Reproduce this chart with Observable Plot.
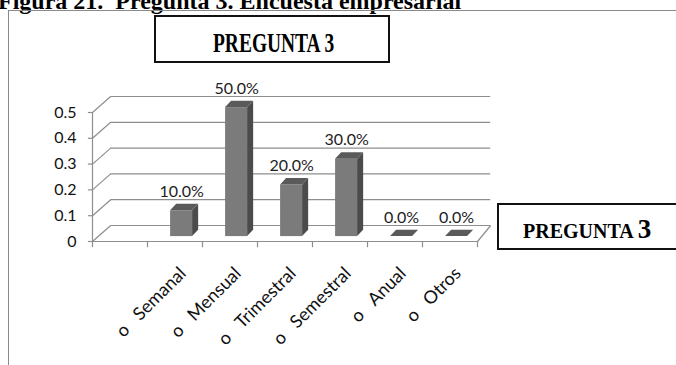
<!DOCTYPE html>
<html>
<head>
<meta charset="utf-8">
<script src="https://cdn.jsdelivr.net/npm/d3@7"></script>
<script src="https://cdn.jsdelivr.net/npm/@observablehq/plot@0.6"></script>
<style>
  body { margin: 0; background: #fff; }
  #fig { position: relative; width: 676px; height: 365px; overflow: hidden; background: #fff; }
  #fig svg { position: absolute; left: 0; top: 0; }
  .caption { position: absolute; left: -2px; top: -12px; line-height: 24px; white-space: nowrap;
    font: bold 24px "Liberation Serif", "Times New Roman", serif; color: #000; }
  .frame { position: absolute; left: 8px; top: 10px; width: 720px; height: 420px;
    border: 1.5px solid #8a8a8a; }
  .title-box { position: absolute; left: 154px; top: 15px; width: 232px; height: 44px;
    border: 2px solid #111; background: #fff; z-index: 2; }
  .title-box span { position: absolute; left: 57px; top: 11px; line-height: 27px; white-space: nowrap;
    font: bold 27px "Liberation Serif", "Times New Roman", serif; color: #000;
    transform: scaleX(0.72); transform-origin: 0 0; }
  .legend-box { position: absolute; left: 497px; top: 203px; width: 200px; height: 43px;
    border: 2px solid #111; background: #fff; z-index: 2; }
  .legend-box .txt { position: absolute; left: 24px; top: 12px; white-space: nowrap; color: #000;
    font-family: "Liberation Serif", "Times New Roman", serif; font-weight: bold; line-height: 24px; }
  .legend-box .l1 { font-size: 20px; }
  .legend-box .l2 { font-size: 27px; }
</style>
</head>
<body>
<div id="fig">
  <div class="caption">Figura 21.&nbsp; Pregunta 3. Encuesta empresarial</div>
  <div class="frame"></div>
  <div class="title-box"><span>PREGUNTA 3</span></div>
  <div class="legend-box"><span class="txt"><span class="l1">PREGUNTA</span> <span class="l2">3</span></span></div>
</div>
<script>
// Answers to question 3: how often the companies do it (share of respondents)
const categories = ["Semanal", "Mensual", "Trimestral", "Semestral", "Anual", "Otros"];
const shares = [0.10, 0.50, 0.20, 0.30, 0.00, 0.00];
const yTicks = [0, 0.1, 0.2, 0.3, 0.4, 0.5];
const yTickLabels = ["0", "0.1", "0.2", "0.3", "0.4", "0.5"];
const bullet = "o";

// Pseudo-3D geometry, in data units (x: category slots, y: share)
const SLOTS = 7;             // first slot is left empty, as in the original workbook
const WALL_DX = 0.33, WALL_DY = 0.062;   // depth of the floor / back wall
const BAR_DX = 0.11, BAR_DY = 0.025;     // depth of each column
const BAR_BASE = 0.019;                  // columns stand slightly behind the front edge
const BAR_L = 0.42, BAR_R = 0.82;        // column front face within its slot

const bars = categories.map((cat, i) => ({
  cat, value: shares[i],
  x0: i + 1 + BAR_L, x1: i + 1 + BAR_R
}));
const topFaces = bars.flatMap(d => [
  {cat: d.cat, y: BAR_BASE + d.value, x1: d.x0, x2: d.x1},
  {cat: d.cat, y: BAR_BASE + d.value + BAR_DY, x1: d.x0 + BAR_DX, x2: d.x1 + BAR_DX}
]);
const sideFaces = bars.flatMap(d => [
  {cat: d.cat, x: d.x1, y1: BAR_BASE, y2: BAR_BASE + d.value},
  {cat: d.cat, x: d.x1 + BAR_DX, y1: BAR_BASE + BAR_DY, y2: BAR_BASE + d.value + BAR_DY}
]);

const grid = "#8e8e8e";
const font = "Lato, 'Open Sans', sans-serif";

const chart = Plot.plot({
  width: 676,
  height: 365,
  marginLeft: 92,
  marginRight: 199,
  marginTop: 112,
  marginBottom: 124,
  x: {type: "linear", domain: [0, SLOTS], axis: null},
  y: {domain: [0, 0.5], axis: null},
  style: {fontFamily: font, fontSize: "16px", background: "transparent", overflow: "visible"},
  marks: [
    // back wall gridlines
    Plot.ruleY(yTicks, {x1: WALL_DX, x2: SLOTS + 0.24, y: d => d + WALL_DY, stroke: grid, strokeWidth: 1.2}),
    // side wall: from the value axis back to the wall
    Plot.link(yTicks, {x1: 0, y1: d => d, x2: WALL_DX, y2: d => d + WALL_DY, stroke: grid, strokeWidth: 1.2}),
    // floor front edge and right edge
    Plot.ruleY([0], {x1: 0, x2: SLOTS, stroke: grid, strokeWidth: 1.2}),
    Plot.link([0], {x1: SLOTS, y1: 0, x2: SLOTS + 0.24, y2: WALL_DY, stroke: grid, strokeWidth: 1.2}),
    // value axis line and its ticks
    Plot.ruleX([0], {y1: 0, y2: 0.5, stroke: grid, strokeWidth: 1.2}),
    Plot.ruleY(yTicks, {x1: -0.075, x2: 0, stroke: grid, strokeWidth: 1.2}),
    // category boundary ticks
    Plot.ruleX(d3.range(0, SLOTS + 1), {y1: 0, y2: -0.024, stroke: grid, strokeWidth: 1.2}),
    // value axis labels
    Plot.text(yTicks, {x: 0, y: d => d, dx: -16, textAnchor: "end", text: (d, i) => yTickLabels[i],
      fontSize: 16, fill: "#111"}),
    // columns: front, side and top faces
    Plot.rect(bars, {x1: "x0", x2: "x1", y1: BAR_BASE, y2: d => BAR_BASE + d.value, fill: "#7b7b7b"}),
    Plot.areaY(sideFaces, {x: "x", y1: "y1", y2: "y2", z: "cat", fill: "#4b4b4b"}),
    Plot.areaX(topFaces, {y: "y", x1: "x1", x2: "x2", z: "cat", fill: "#5a5a5a"}),
    // value labels
    Plot.text(bars, {x: d => (d.x0 + d.x1) / 2, y: d => BAR_BASE + d.value, dy: -19,
      text: d => d3.format(".1%")(d.value), fontSize: 16, fill: "#222"}),
    // category labels
    Plot.text(categories, {x: (d, i) => i + 1.5, y: 0, dx: 8, dy: 29, rotate: -45, textAnchor: "end",
      text: d => bullet + "\u2003" + d, fontSize: 18, fill: "#111"})
  ]
});

document.getElementById("fig").insertBefore(chart, document.querySelector(".title-box"));
</script>
</body>
</html>
